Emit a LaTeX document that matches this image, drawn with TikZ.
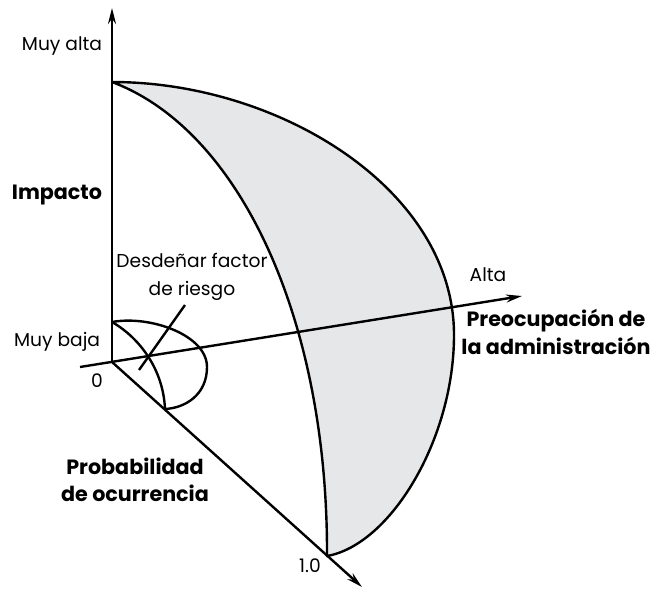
\documentclass[tikz,border=0pt]{standalone}
\usepackage{fontspec}
\setmainfont{Poppins}
\usetikzlibrary{arrows.meta}
\definecolor{zonagris}{RGB}{230,231,233}
\tikzset{
  eje/.style={line width=1.8pt,-{Stealth[length=12pt,width=6pt]}},
  curva/.style={line width=1.8pt},
  etiq/.style={font=\fontsize{14}{21}\selectfont,inner sep=0pt,align=center},
  titulo/.style={font=\fontsize{15.5}{20.5}\selectfont\bfseries,inner sep=0pt,align=center},
}
\begin{document}
\begin{tikzpicture}[x=0.75pt,y=-0.75pt]
  \useasboundingbox (0,0) rectangle (656,589);
  % puntos base
  \coordinate (O) at (112,362);
  \coordinate (A) at (112,82);
  \coordinate (E) at (454,335);
  \coordinate (B) at (327,556);
  \coordinate (C) at (112,322);
  \coordinate (F) at (207,367);
  \coordinate (D) at (165,409);
  % zona sombreada entre las dos curvas
  \filldraw[curva,fill=zonagris,line join=round]
    (A) .. controls (280,82) and (454,190) .. (E)
        .. controls (454,440) and (390,545) .. (B)
        .. controls (328,320) and (240,130) .. (A) -- cycle;
  % zona pequeña cerca del origen
  \draw[curva] (C) .. controls (135,335) and (163,365) .. (D);
  \draw[curva] (C) .. controls (150,315) and (207,335) .. (F)
                   .. controls (207,395) and (185,408) .. (D);
  % ejes
  \coordinate (ytop) at (112,8);
  \coordinate (xini) at (80,367);
  \coordinate (xfin) at (522,296);
  \coordinate (zfin) at (362,587);
  \draw[eje] (O) -- (ytop);
  \draw[eje] (xini) -- (xfin);
  \draw[eje] (O) -- (zfin);
  % textos
  \node[etiq] (muyalta) at (62,46) {Muy alta};
  \node[titulo] (impacto) at (57,195) {Impacto};
  \node[etiq] (muybaja) at (57,342) {Muy baja};
  \node[etiq] (cero) at (97,381) {0};
  \node[etiq] (desd) at (192,277) {Desdeñar factor\\de riesgo};
  \node[etiq] (alta) at (488,275) {Alta};
  \node[titulo] (preoc) at (556,332) {Preocupación de\\la administración};
  \node[titulo] (prob) at (135,480) {Probabilidad\\de ocurrencia};
  \node[etiq] (uno) at (310,566) {1.0};
  % señalador
  \coordinate (pini) at (185,305);
  \coordinate (pfin) at (139,370);
  \draw[curva] (pini) -- (pfin);
\end{tikzpicture}
\end{document}
